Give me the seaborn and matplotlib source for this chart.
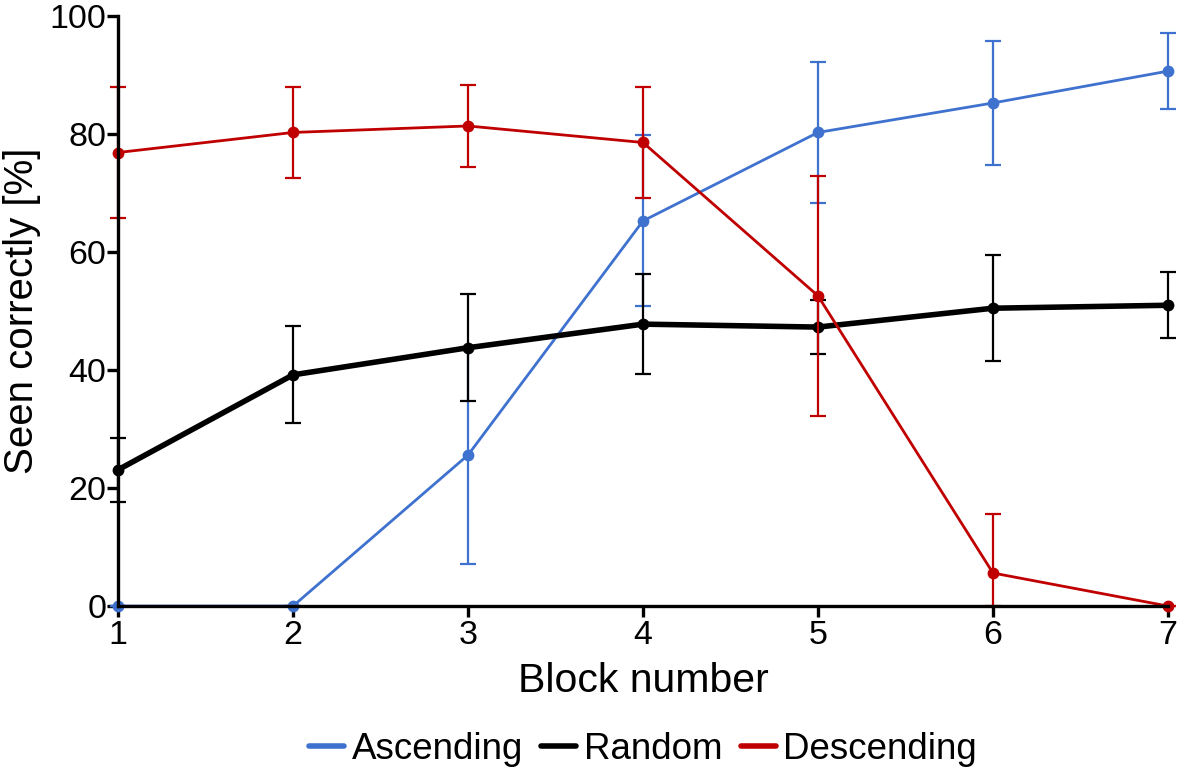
import numpy as np
import pandas as pd
import matplotlib
matplotlib.use("Agg")
import matplotlib.pyplot as plt
from matplotlib.lines import Line2D
import seaborn as sns

# data
blocks = [1, 2, 3, 4, 5, 6, 7]
ascending = [0, 0, 25.6, 65.3, 80.3, 85.3, 90.7]
ascending_err = [0, 0, 18.4, 14.5, 11.9, 10.5, 6.4]
random_ = [23.1, 39.2, 43.8, 47.8, 47.3, 50.5, 51.0]
random_err = [5.4, 8.2, 9.1, 8.5, 4.6, 9.0, 5.6]
descending = [76.9, 80.3, 81.4, 78.6, 52.6, 5.6, 0]
descending_err = [11.1, 7.7, 7.0, 9.4, 20.4, 10.0, 0]

series = ["Ascending", "Random", "Descending"]
palette = {"Ascending": "#3F72CF", "Random": "#000000", "Descending": "#C00000"}
widths = {"Ascending": 2.0, "Random": 4.0, "Descending": 2.0}

df = pd.DataFrame({
    "Block": blocks * 3,
    "Value": ascending + random_ + descending,
    "Err": ascending_err + random_err + descending_err,
    "Condition": sum([[s] * len(blocks) for s in series], []),
})

sns.set_style("ticks")
plt.rcParams['font.family'] = ['Liberation Sans', 'DejaVu Sans']
plt.rcParams['text.color'] = 'black'

fig = plt.figure(figsize=(11.8, 7.75), dpi=100)
ax = fig.add_axes([0.1, 0.218, 0.8898, 0.761])

zorders = {"Ascending": 3, "Random": 4, "Descending": 5}
for name in series:
    sub = df[df["Condition"] == name]
    vals = sub["Value"].to_numpy()
    errs = sub["Err"].to_numpy()
    lower = np.minimum(errs, vals)  # bars stop at the axis
    eb = ax.errorbar(sub["Block"], vals, yerr=[lower, errs], fmt="none",
                     ecolor=palette[name], elinewidth=1.6, capsize=6, capthick=1.6,
                     zorder=zorders[name])
    for art in list(eb.lines[1]) + list(eb.lines[2]):
        art.set_clip_on(False)

    sns.lineplot(data=sub, x="Block", y="Value", color=palette[name],
                 linewidth=widths[name], marker="o", markersize=8.5,
                 markeredgewidth=0, ax=ax, zorder=zorders[name] + 0.5,
                 legend=False, clip_on=False)

ax.set_xlim(1, 7)
ax.set_ylim(0, 100)
ax.set_xticks(blocks)
ax.set_yticks([0, 20, 40, 60, 80, 100])
sns.despine(ax=ax)
for side in ["left", "bottom"]:
    ax.spines[side].set_linewidth(2.4)
    ax.spines[side].set_color("black")
    ax.spines[side].set_zorder(6)
ax.tick_params(axis="both", length=8, width=2.4, color="black",
               labelsize=24.5, labelcolor="black")
ax.tick_params(axis="y", pad=0.5)
ax.tick_params(axis="x", pad=2)

ax.set_xlabel("Block number", fontsize=29.5, labelpad=8, color="black")
ax.set_ylabel("Seen correctly [%]", fontsize=29, labelpad=6, color="black")

handles = [Line2D([0], [0], color=palette[s], linewidth=4) for s in series]
fig.legend(handles, series, loc="center", bbox_to_anchor=(0.545, 0.033),
           ncol=3, frameon=False, fontsize=26.5, handlelength=0.95,
           handletextpad=0.2, columnspacing=0.5, labelcolor="black")

fig.savefig("out.png", dpi=100)
